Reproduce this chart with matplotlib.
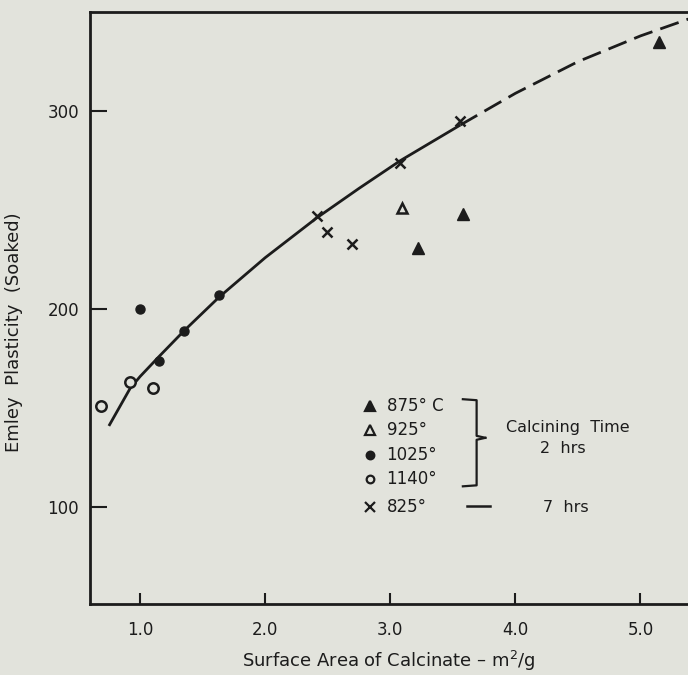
import matplotlib
matplotlib.use("Agg")
from matplotlib import pyplot as plt

# data
t875_x = [3.22, 3.58, 5.15]
t875_y = [231, 248, 335]
t925_x = [3.09]
t925_y = [251]
t1025_x = [1.00, 1.15, 1.35, 1.63]
t1025_y = [200, 174, 189, 207]
t1140_x = [0.69, 0.92, 1.10]
t1140_y = [151, 163, 160]
t825_x = [2.41, 2.49, 2.69, 3.08, 3.56]
t825_y = [247, 239, 233, 274, 295]

# hand-drawn trend line (solid part, then dashed extrapolation)
fit_x = [0.75, 0.92, 1.0, 1.15, 1.35, 1.63, 2.0, 2.41, 2.75, 3.08, 3.56]
fit_y = [141, 160, 166, 176, 189, 206, 226, 246, 261, 275, 293]
ext_x = [3.56, 4.0, 4.5, 5.0, 5.45]
ext_y = [293, 309, 325, 338, 348]

x_ticks = [1.0, 2.0, 3.0, 4.0, 5.0]
x_labels = ['1.0', '2.0', '3.0', '4.0', '5.0']
y_ticks = [100, 200, 300]

bg = '#e2e3dc'
ink = '#1c1c1c'
plt.rcParams['font.family'] = ['DejaVu Sans']

fig = plt.figure(figsize=(6.88, 6.75), dpi=100, facecolor=bg)
ax = fig.add_axes([0.131, 0.105, 0.869, 0.877], facecolor=bg)

ax.plot(fit_x, fit_y, '-', color=ink, lw=2.0, solid_capstyle='butt')
ax.plot(ext_x, ext_y, '-', color=ink, lw=2.0, dashes=(7, 3))

ax.plot(t875_x, t875_y, '^', color=ink, ms=8, ls='none')
ax.plot(t925_x, t925_y, '^', mfc=bg, mec=ink, mew=1.8, ms=7.5, ls='none')
ax.plot(t1025_x, t1025_y, 'o', color=ink, ms=6.5, ls='none')
ax.plot(t1140_x, t1140_y, 'o', mfc=bg, mec=ink, mew=1.8, ms=7.5, ls='none')
ax.plot(t825_x, t825_y, 'x', color=ink, mew=1.8, ms=7.5, ls='none')

ax.set_xlim(0.6, 5.38)
ax.set_ylim(51, 350)
ax.set_xticks(x_ticks)
ax.set_xticklabels(x_labels)
ax.set_yticks(y_ticks)
ax.tick_params(direction='in', color=ink, labelcolor=ink, labelsize=12,
               width=1.5, length=8, pad=12)
ax.tick_params(axis='y', length=12, pad=8)
for side in ['left', 'bottom', 'top']:
    ax.spines[side].set_color(ink)
    ax.spines[side].set_linewidth(2.0)
ax.spines['right'].set_visible(False)

ax.set_xlabel('Surface Area of Calcinate – m$^2$/g', fontsize=13,
              color=ink)
ax.set_ylabel('Emley  Plasticity  (Soaked)', fontsize=13, color=ink)
ax.xaxis.set_label_coords(0.50, -0.075)
ax.yaxis.set_label_coords(-0.112, 0.46)

# hand-lettered key
key_rows = [('^', ink, '875° C', 151), ('^', bg, '925°', 139),
            ('o', ink, '1025°', 126.5), ('o', bg, '1140°', 114),
            ('x', ink, '825°', 100)]
for mk, fc, txt, yy in key_rows:
    ax.plot([2.84], [yy], mk, mfc=fc, mec=ink, color=ink, mew=1.6,
            ms=6.5 if mk != 'o' else 5.5, ls='none')
    ax.text(2.97, yy, txt, fontsize=12, color=ink, va='center')
# brace
ax.plot([3.58, 3.69, 3.69, 3.76], [154.5, 154, 136, 135],
        color=ink, lw=1.6)
ax.plot([3.76, 3.69, 3.69, 3.58], [135, 134, 111, 110.5],
        color=ink, lw=1.6)
ax.text(4.42, 140, 'Calcining  Time', fontsize=11.5, color=ink,
        ha='center', va='center')
ax.text(4.38, 129.5, '2  hrs', fontsize=11.5, color=ink,
        ha='center', va='center')
ax.plot([3.61, 3.80], [100.5, 100.5], color=ink, lw=1.8)
ax.text(4.40, 100, '7  hrs', fontsize=11.5, color=ink, ha='center',
        va='center')

fig.savefig('out.png', dpi=100, facecolor=bg)
